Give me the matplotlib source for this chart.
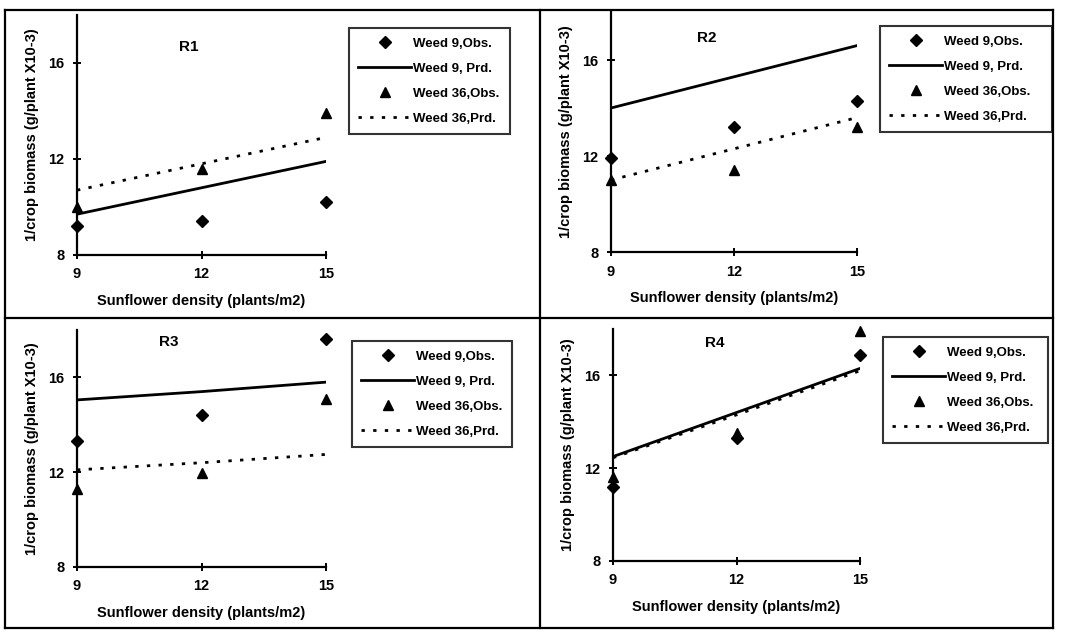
import matplotlib
matplotlib.use("Agg")
import matplotlib.pyplot as plt
from matplotlib.lines import Line2D

plt.rcParams['font.family'] = ['Liberation Sans', 'DejaVu Sans']
plt.rcParams['font.weight'] = 'bold'

density = [9, 12, 15]
panels = ['R1', 'R2', 'R3', 'R4']
legend_labels = ['Weed 9,Obs.', 'Weed 9, Prd.', 'Weed 36,Obs.', 'Weed 36,Prd.']

# values (1/crop biomass, g/plant x10-3)
r1_w9_obs = [9.2, 9.4, 10.2]
r1_w9_prd = [9.7, 10.8, 11.9]
r1_w36_obs = [10.0, 11.6, 13.9]
r1_w36_prd = [10.7, 11.8, 12.9]

r2_w9_obs = [11.9, 13.2, 14.3]
r2_w9_prd = [14.0, 15.3, 16.6]
r2_w36_obs = [11.0, 11.4, 13.2]
r2_w36_prd = [11.0, 12.3, 13.6]

r3_w9_obs = [13.3, 14.4, 17.6]
r3_w9_prd = [15.05, 15.4, 15.8]
r3_w36_obs = [11.3, 11.95, 15.1]
r3_w36_prd = [12.1, 12.4, 12.75]

r4_w9_obs = [11.2, 13.3, 16.9]
r4_w9_prd = [12.5, 14.4, 16.3]
r4_w36_obs = [11.6, 13.5, 17.9]
r4_w36_prd = [12.45, 14.3, 16.2]

series = {
    'R1': (r1_w9_obs, r1_w9_prd, r1_w36_obs, r1_w36_prd),
    'R2': (r2_w9_obs, r2_w9_prd, r2_w36_obs, r2_w36_prd),
    'R3': (r3_w9_obs, r3_w9_prd, r3_w36_obs, r3_w36_prd),
    'R4': (r4_w9_obs, r4_w9_prd, r4_w36_obs, r4_w36_prd),
}

W, H = 1079, 634
fig = plt.figure(figsize=(W / 100, H / 100), dpi=100)

def px(x0, y_top, x1, y_bot):
    # pixel box -> figure fraction rect
    return [x0 / W, 1 - y_bot / H, (x1 - x0) / W, (y_bot - y_top) / H]

axes_boxes = {
    'R1': px(77, 15, 326, 255),
    'R2': px(611, 12, 857, 252),
    'R3': px(77, 330, 326, 567),
    'R4': px(613, 329, 860, 561),
}
legend_boxes = {
    'R1': (349, 29, 510),
    'R2': (880, 27, 1052),
    'R3': (352, 342, 512),
    'R4': (883, 338, 1048),
}
title_pos = {
    'R1': (0.45, 0.865),
    'R2': (0.39, 0.89),
    'R3': (0.37, 0.95),
    'R4': (0.41, 0.94),
}

for name in panels:
    ax = fig.add_axes(axes_boxes[name])
    w9o, w9p, w36o, w36p = series[name]
    h1, = ax.plot(density, w9o, linestyle='none', marker='D', color='black',
                  markersize=6, clip_on=False, zorder=4)
    h2, = ax.plot(density, w9p, color='black', linewidth=2)
    h3, = ax.plot(density, w36o, linestyle='none', marker='^', color='black',
                  markersize=7, clip_on=False, zorder=4)
    h4, = ax.plot(density, w36p, color='black', linewidth=2,
                  linestyle=(0, (1.2, 3)))

    ax.set_xlim(9, 15)
    ax.set_ylim(8, 18)
    ax.set_xticks([9, 12, 15])
    ax.set_yticks([8, 12, 16])
    for s in ['top', 'right']:
        ax.spines[s].set_visible(False)
    for s in ['left', 'bottom']:
        ax.spines[s].set_linewidth(1.6)
    ax.tick_params(direction='inout', length=6, width=1.4, labelsize=10.5, pad=6)
    for lab in ax.get_xticklabels() + ax.get_yticklabels():
        lab.set_fontweight('bold')

    ax.set_xlabel('Sunflower density (plants/m2)', fontsize=10.5, fontweight='bold', labelpad=9)
    ax.set_ylabel('1/crop biomass (g/plant X10-3)', fontsize=10.5, fontweight='bold', labelpad=7)
    ax.text(title_pos[name][0], title_pos[name][1], name, transform=ax.transAxes,
            fontsize=11, fontweight='bold', ha='center', va='center')

    x0, ytop, x1 = legend_boxes[name]
    leg = ax.legend([h1, h2, h3, h4], legend_labels, loc='upper left',
                    bbox_to_anchor=(x0 / W, 1 - ytop / H, (x1 - x0) / W, 0.001),
                    bbox_transform=fig.transFigure, mode='expand', borderaxespad=0,
                    fontsize=9.5, handlelength=4.0, handletextpad=0.15, labelspacing=0.97,
                    borderpad=0.7, fancybox=False, frameon=True)
    leg.get_frame().set_edgecolor('black')
    leg.get_frame().set_linewidth(1.5)
    for t in leg.get_texts():
        t.set_fontweight('bold')

# panel frames
lw = 1.6
frame = [
    ((5, 10), (1053, 10)),
    ((5, 318), (1053, 318)),
    ((5, 628), (1053, 628)),
    ((5, 10), (5, 628)),
    ((540, 10), (540, 628)),
    ((1053, 10), (1053, 628)),
]
for (xa, ya), (xb, yb) in frame:
    fig.add_artist(Line2D([xa / W, xb / W], [1 - ya / H, 1 - yb / H],
                          transform=fig.transFigure, color='black', linewidth=lw))

fig.savefig('out.png', dpi=100)
